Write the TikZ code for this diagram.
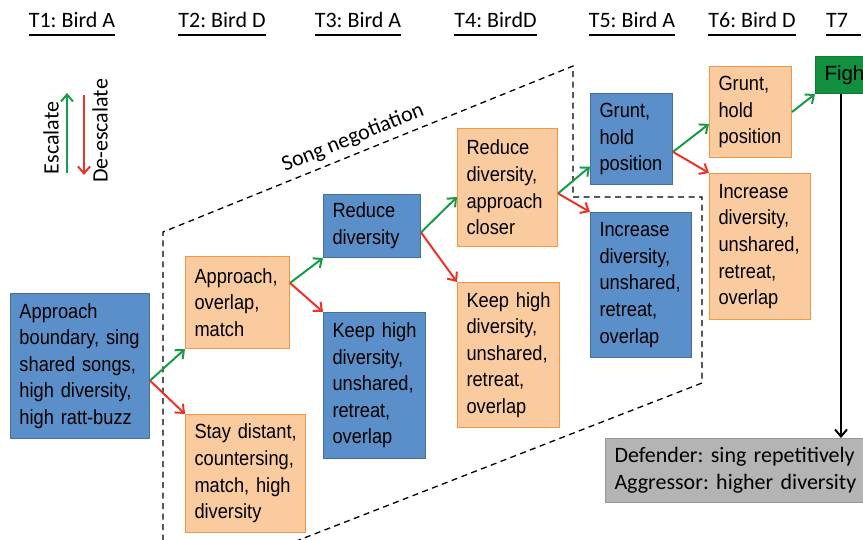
\documentclass[tikz,border=0pt]{standalone}
\usepackage{fontspec}
\setmainfont{Liberation Sans}
\newfontfamily\calfont{Carlito}
\newfontfamily\boxfont[FakeStretch=0.89]{Liberation Sans}
\usetikzlibrary{arrows.meta,calc}
\definecolor{bfill}{RGB}{91,143,201}
\definecolor{bdraw}{RGB}{65,113,156}
\definecolor{ofill}{RGB}{251,203,160}
\definecolor{odraw}{RGB}{245,150,70}
\definecolor{gfill}{RGB}{19,143,64}
\definecolor{gdraw}{RGB}{14,120,52}
\definecolor{escg}{RGB}{24,155,70}
\definecolor{escr}{RGB}{235,52,40}
\definecolor{grfill}{RGB}{180,180,180}
\definecolor{grdraw}{RGB}{150,150,150}
\hyphenpenalty=10000
\exhyphenpenalty=10000
\frenchspacing
\hfuzz=50pt
\tikzset{
  cbox/.style={line width=1pt, anchor=north west, align=left, inner xsep=9pt, inner ysep=0pt,
    font=\boxfont\fontsize{20.5}{26.6}\selectfont},
  bluebox/.style={cbox, fill=bfill, draw=bdraw},
  orangebox/.style={cbox, fill=ofill, draw=odraw},
  hdr/.style={font=\calfont\fontsize{22}{26}\selectfont, inner sep=0pt, anchor=base},
  uline/.style={line width=1.6pt},
  esc/.style={line width=2pt, draw=escg, -{Straight Barb[length=7pt,width=12pt]}},
  desc/.style={line width=2pt, draw=escr, -{Straight Barb[length=7pt,width=12pt]}},
  bound/.style={line width=1.3pt, dash pattern=on 6pt off 4.5pt},
}
\begin{document}
\begin{tikzpicture}[x=1pt,y=-1pt]
\useasboundingbox (0,0) rectangle (863,540);
\clip (0,0) rectangle (863,540);

% headers
\node[hdr] (t1) at (72,28) {T1: Bird A};
\node[hdr] (t2) at (222,28) {T2: Bird D};
\node[hdr] (t3) at (358,28) {T3: Bird A};
\node[hdr] (t4) at (495.5,28) {T4: BirdD};
\node[hdr] (t5) at (632,28) {T5: Bird A};
\node[hdr] (t6) at (752,28) {T6: Bird D};
\node[hdr, anchor=base west] (t7) at (826,28) {T7};
\foreach \t in {t1,t2,t3,t4,t5,t6}
  \draw[uline] ([yshift=-7pt]\t.base west) -- ([yshift=-7pt]\t.base east);
\draw[uline] ([yshift=-7pt]t7.base west) -- ++(35,0);

% legend
\coordinate (eb) at (67,173); \coordinate (et) at (67,93);
\coordinate (db) at (84,95); \coordinate (dt) at (84,175);
\draw[esc] (eb) -- (et);
\draw[desc] (db) -- (dt);
\node[font=\calfont\fontsize{22}{26}\selectfont, rotate=90] (esclab) at (51,138) {Escalate};
\node[font=\calfont\fontsize{22}{26}\selectfont, rotate=90] (desclab) at (100,131) {De-escalate};

% song negotiation boundary
\draw[bound] (163,593) -- (163,232) -- (573,66) -- (573,197) -- (702,197) -- (702,383) -- cycle;
\node[font=\calfont\fontsize{22}{26}\selectfont, rotate=22] (songlab) at (353,138) {Song negotiation};

% boxes
\node[bluebox, minimum width=139pt, minimum height=145pt, text width=121pt] (A1) at (10,293)
  {Approach\\boundary,~sing\\shared~songs,\\high~diversity,\\high~ratt-buzz};
\node[orangebox, minimum width=104pt, minimum height=92pt, text width=86pt] (O2a) at (185,256)
  {Approach,\\overlap,\\match};
\node[orangebox, minimum width=120pt, minimum height=118pt, text width=102pt] (O2b) at (185,414)
  {Stay~distant,\\countersing,\\match,~high\\diversity};
\node[bluebox, minimum width=97pt, minimum height=63pt, text width=79pt] (B3a) at (323,194)
  {Reduce\\diversity};
\node[bluebox, minimum width=102pt, minimum height=146pt, text width=84pt] (B3b) at (323,312)
  {Keep~high\\diversity,\\unshared,\\retreat,\\overlap};
\node[orangebox, minimum width=100pt, minimum height=118pt, text width=82pt] (O4a) at (457,128)
  {Reduce\\diversity,\\approach\\closer};
\node[orangebox, minimum width=102pt, minimum height=145pt, text width=84pt] (O4b) at (457,282)
  {Keep~high\\diversity,\\unshared,\\retreat,\\overlap};
\node[bluebox, minimum width=82pt, minimum height=91pt, text width=64pt] (B5a) at (590,93)
  {Grunt,\\hold\\position};
\node[bluebox, minimum width=101pt, minimum height=145pt, text width=83pt] (B5b) at (590,212)
  {Increase\\diversity,\\unshared,\\retreat,\\overlap};
\node[orangebox, minimum width=82pt, minimum height=91pt, text width=64pt] (O6a) at (709,66)
  {Grunt,\\hold\\position};
\node[orangebox, minimum width=101pt, minimum height=146pt, text width=83pt] (O6b) at (709,173)
  {Increase\\diversity,\\unshared,\\retreat,\\overlap};
\node[cbox, fill=gfill, draw=gdraw, minimum width=80pt, minimum height=37pt, text width=62pt,
  font=\fontsize{20.5}{26.6}\selectfont] (F) at (815,56)
  {Fight};
\node[cbox, fill=grfill, draw=grdraw, minimum width=262pt, minimum height=64pt, text width=244pt,
  font=\calfont\fontsize{22}{27}\selectfont] (G) at (605,438)
  {Defender:~sing~repetitively\\Aggressor:~higher~diversity};

% connectors
\draw[esc]  ($(A1.north east)!0.6!(A1.south east)$) -- (O2a.south west);
\draw[desc] ($(A1.north east)!0.6!(A1.south east)$) -- (O2b.north west);
\draw[esc]  ($(O2a.north east)!0.29!(O2a.south east)$) -- (B3a.south west);
\draw[desc] ($(O2a.north east)!0.29!(O2a.south east)$) -- (B3b.north west);
\draw[esc]  ($(B3a.north east)!0.6!(B3a.south east)$) -- ($(O4a.north west)!0.58!(O4a.south west)$);
\draw[desc] ($(B3a.north east)!0.6!(B3a.south east)$) -- (O4b.north west);
\draw[esc]  ($(O4a.north east)!0.55!(O4a.south east)$) -- ($(B5a.north west)!0.8!(B5a.south west)$);
\draw[desc] ($(O4a.north east)!0.55!(O4a.south east)$) -- (B5b.north west);
\draw[esc]  ($(B5a.north east)!0.64!(B5a.south east)$) -- ($(O6a.north west)!0.63!(O6a.south west)$);
\draw[desc] ($(B5a.north east)!0.64!(B5a.south east)$) -- (O6b.north west);
\draw[esc]  (O6a.east) -- (F.south west);
\coordinate (fd) at ($(F.south west)+(26,0)$);
\draw[line width=2pt, -{Straight Barb[length=7pt,width=12pt]}] (fd) -- (fd |- G.north);
\end{tikzpicture}
\end{document}
